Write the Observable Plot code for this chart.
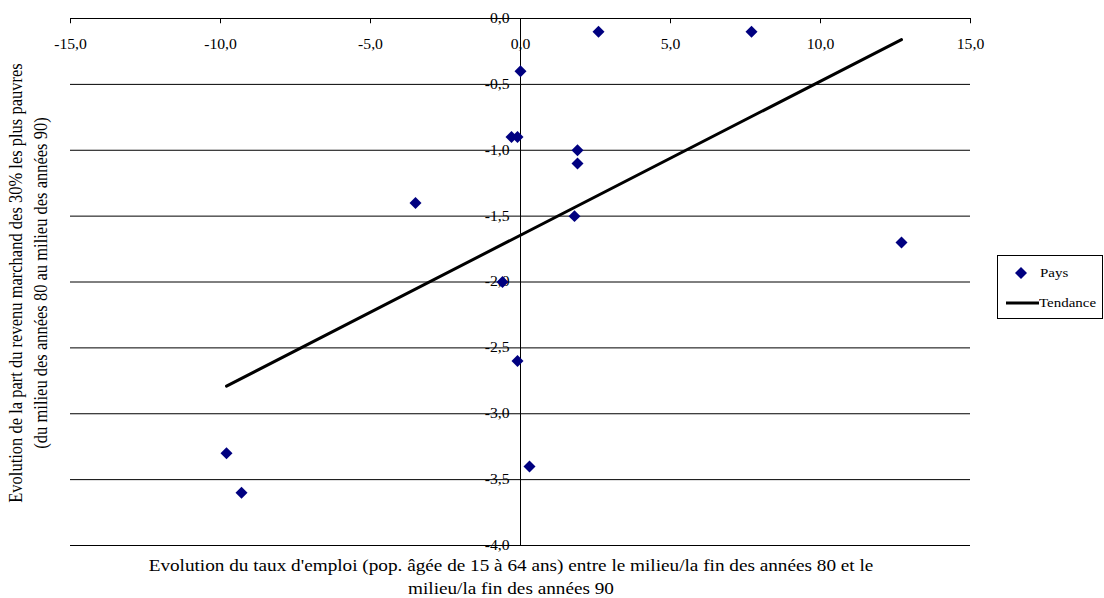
<!DOCTYPE html>
<html>
<head>
<meta charset="utf-8">
<script src="https://cdn.jsdelivr.net/npm/d3@7"></script>
<script src="https://cdn.jsdelivr.net/npm/@observablehq/plot@0.6"></script>
<style>
  html, body { margin: 0; padding: 0; background: #fff; }
  #wrap { position: relative; width: 1104px; height: 598px; font-family: "Liberation Serif", "Times New Roman", serif; color: #000; overflow: hidden; }
  #chart svg { display: block; }
  #xtitle { position: absolute; left: 0; top: 554px; width: 1022px; text-align: center; font-size: 17px; line-height: 23px; transform: scaleX(1.13); transform-origin: 511px 0; }
  #xtitle div, #ytitle div { white-space: nowrap; }
  #ytitle { position: absolute; left: -321px; top: 261px; width: 700px; height: 44px; text-align: center; font-size: 16.5px; line-height: 22px; transform: rotate(-90deg) scaleY(1.12); transform-origin: 350px 22px; }
  #legend { position: absolute; left: 997px; top: 255px; width: 106px; height: 64px; border: 1px solid #000; box-sizing: border-box; font-size: 13px; font-family: "Liberation Serif", "Times New Roman", serif; }
  #legend .item { position: absolute; display: flex; align-items: center; white-space: nowrap; }
  #legend span { display: inline-block; transform: scaleX(1.15); transform-origin: 0 50%; }
</style>
</head>
<body>
<div id="wrap">
  <div id="chart"></div>
  <div id="ytitle"><div>Evolution de la part du revenu marchand des 30% les plus pauvres</div><div>(du milieu des années 80 au milieu des années 90)</div></div>
  <div id="xtitle"><div>Evolution du taux d'emploi (pop. âgée de 15 à 64 ans) entre le milieu/la fin des années 80 et le</div><div>milieu/la fin des années 90</div></div>
  <div id="legend">
    <div class="item" style="top:9px;left:15px;"><svg width="16" height="16"><path d="M8,2L14,8L8,14L2,8Z" fill="#000080"/></svg><span style="margin-left:11px">Pays</span></div>
    <div class="item" style="top:39px;left:8px;"><svg width="33" height="16"><line x1="0" y1="8" x2="33" y2="8" stroke="#000" stroke-width="3"/></svg><span>Tendance</span></div>
  </div>
</div>
<script>
// Data: employment-rate change (x) vs change in income share of poorest 30% (y)
const paysX = [2.6, 7.7, 0.0, -0.3, -0.1, 1.9, 1.9, 1.8, -3.5, -0.6, -0.1, 12.7, -9.8, -9.3, 0.3];
const paysY = [-0.1, -0.1, -0.4, -0.9, -0.9, -1.0, -1.1, -1.5, -1.4, -2.0, -2.6, -1.7, -3.3, -3.6, -3.4];
// Trend line endpoints
const trendX = [-9.8, 12.7];
const trendY = [-2.79, -0.16];
// Axis ticks
const xTicks = [-15, -10, -5, 0, 5, 10, 15];
const yTicks = [0, -0.5, -1, -1.5, -2, -2.5, -3, -3.5, -4];

const fmt = d => (d < 0 ? "-" : "") + Math.abs(d).toFixed(1).replace(".", ",");
const pays = paysX.map((x, i) => ({x, y: paysY[i]}));
const trend = trendX.map((x, i) => ({x, y: trendY[i]}));
const FONT = "Liberation Serif";

const chart = Plot.plot({
  width: 1104,
  height: 555,
  marginLeft: 70,
  marginRight: 134,
  marginTop: 18,
  marginBottom: 10,
  style: "font-family: 'Liberation Serif', serif; font-size: 14px; background: white;",
  x: {domain: [-15, 15], axis: null},
  y: {domain: [-4, 0], axis: null},
  marks: [
    Plot.ruleY(yTicks, {y: d => d, x1: -15, x2: 15, stroke: "black", strokeWidth: 1}),
    Plot.ruleX([0], {y1: -4, y2: 0, stroke: "black", strokeWidth: 1}),
    Plot.ruleX(xTicks, {x: d => d, y1: 0, y2: -0.04, stroke: "black", strokeWidth: 1}),
    Plot.text(xTicks, {x: d => d, y: 0, dy: 26, text: fmt, fill: "black", fontFamily: FONT, fontSize: 14}),
    Plot.text(yTicks, {x: 0, y: d => d, dx: -11, textAnchor: "end", text: fmt, fill: "black", fontFamily: FONT, fontSize: 14}),
    Plot.line(trend, {x: "x", y: "y", stroke: "black", strokeWidth: 3}),
    Plot.dot(pays, {x: "x", y: "y", symbol: "diamond2", r: 5.4, fill: "#000080", stroke: "none"})
  ]
});
document.getElementById("chart").appendChild(chart);

// Horizontal stretch of tick labels, as in the reference
chart.querySelectorAll('g[aria-label="text"] text').forEach(t => {
  const w = t.getComputedTextLength();
  if (w > 0) {
    t.setAttribute("textLength", (w * 1.12).toFixed(2));
    t.setAttribute("lengthAdjust", "spacingAndGlyphs");
  }
});
</script>
</body>
</html>
